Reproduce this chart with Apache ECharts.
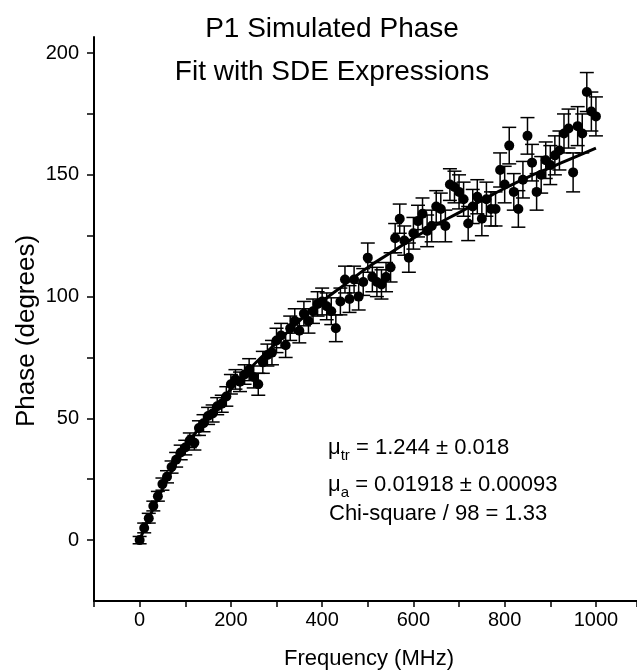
<!DOCTYPE html>
<html>
<head>
<meta charset="utf-8">
<script src="https://cdn.jsdelivr.net/npm/echarts@6/dist/echarts.min.js"></script>
<style>
html, body { margin: 0; padding: 0; background: #fff; }
#chart { width: 637px; height: 672px; }
</style>
</head>
<body>
<div id="chart"></div>
<script>
// measured points, frequency in MHz
var freq = [0, 10, 20, 30, 40, 50, 60, 70, 80, 90,
    100, 110, 120, 130, 140, 150, 160, 170, 180, 190,
    200, 210, 220, 230, 240, 250, 260, 270, 280, 290,
    300, 310, 320, 330, 340, 350, 360, 370, 380, 390,
    400, 410, 420, 430, 440, 450, 460, 470, 480, 490,
    500, 510, 520, 530, 540, 550, 560, 570, 580, 590,
    600, 610, 620, 630, 640, 650, 660, 670, 680, 690,
    700, 710, 720, 730, 740, 750, 760, 770, 780, 790,
    800, 810, 820, 830, 840, 850, 860, 870, 880, 890,
    900, 910, 920, 930, 940, 950, 960, 970, 980, 990, 1000];
var phase = [0, 5, 9, 14, 18, 23, 26, 30, 33, 36,
    38, 41, 40, 46, 48, 51, 52, 55, 56, 59,
    64, 66, 65, 68, 70, 67, 64, 73, 76, 77,
    82, 84, 80, 87, 90, 86, 93, 90, 94, 97,
    98, 96, 94, 87, 98, 107, 99, 107, 100, 106,
    116, 108, 106, 105, 108, 112, 124, 132, 123, 116,
    126, 131, 134, 127, 129, 137, 136, 129, 146, 145,
    143, 140, 130, 137, 141, 132, 140, 136, 136, 152,
    146, 162, 143, 136, 148, 166, 155, 143, 150, 156,
    154, 158, 160, 167, 169, 151, 170, 167, 184, 176, 174];
var err = [1.5, 2, 2, 2, 2, 2.5, 2.5, 2.5, 3, 3,
    3, 3, 3, 3, 3.5, 3.5, 3.5, 3.5, 3.5, 4,
    4, 4, 4, 4, 4.5, 4.5, 4.5, 4.5, 4.5, 5,
    5, 5, 5, 5, 5, 5, 5, 5, 5, 5,
    5.5, 5.5, 5.5, 5.5, 5.5, 5.5, 5.5, 5.5, 5.5, 5.5,
    6, 6, 6, 6, 6, 6, 6, 6, 6, 6,
    6.5, 6.5, 6.5, 6.5, 6.5, 6.5, 6.5, 6.5, 6.5, 6.5,
    7, 7, 7, 7, 7, 7, 7, 7, 7, 7,
    7.5, 7.5, 7.5, 7.5, 7.5, 7.5, 7.5, 7.5, 7.5, 7.5,
    8, 8, 8, 8, 8, 8, 8, 8, 8, 8, 8];

// SDE fit curve
var fitFreq = [0, 10, 25, 50, 75, 100, 150, 200, 250, 300, 350, 400, 450, 500,
    550, 600, 650, 700, 750, 800, 850, 900, 950, 1000];
var fitPhase = [0, 4.5, 11, 21, 30, 38, 51, 62, 72, 81, 90, 98, 105, 112,
    118, 124, 129.5, 134.5, 139.5, 144.5, 149, 153, 157, 161];

var yLabels = [0, 50, 100, 150, 200];
var yTicks = [0, 25, 50, 75, 100, 125, 150, 175, 200];

var labelFont = "'Liberation Sans Narrow', 'Liberation Sans', Arial, sans-serif";
var textFont = "'Liberation Sans', Arial, sans-serif";

var pts = [], bars = [], fit = [];
for (var i = 0; i < freq.length; i++) {
    pts.push([freq[i], phase[i]]);
    bars.push([freq[i], phase[i] - err[i], phase[i] + err[i]]);
}
for (var j = 0; j < fitFreq.length; j++) {
    fit.push([fitFreq[j], fitPhase[j]]);
}

var myChart = echarts.init(document.getElementById('chart'));

var option = {
    backgroundColor: '#fff',
    animation: false,
    grid: { left: 94, right: 0, top: 37, bottom: 71, outerBoundsMode: 'none' },
    xAxis: {
        type: 'value',
        min: -100,
        max: 1090,
        interval: 100,
        axisLine: { show: true, onZero: false, lineStyle: { color: '#000', width: 2 } },
        axisTick: { show: true, length: 6, lineStyle: { color: '#000', width: 1.5 } },
        axisLabel: {
            color: '#000', fontSize: 20, fontFamily: labelFont, margin: 9,
            formatter: function (v) { return (v >= 0 && v <= 1000 && v % 200 === 0) ? String(v) : ''; }
        },
        splitLine: { show: false }
    },
    yAxis: {
        type: 'value',
        min: -25,
        max: 206.6,
        axisLine: { show: true, onZero: false, lineStyle: { color: '#000', width: 2 } },
        axisTick: { show: true, customValues: yTicks, length: 7, lineStyle: { color: '#000', width: 1.5 } },
        axisLabel: { customValues: yLabels, color: '#000', fontSize: 20, fontFamily: labelFont, margin: 15 },
        splitLine: { show: false }
    },
    series: [{
        type: 'custom',
        data: bars,
        encode: { x: 0, y: [1, 2] },
        z: 2,
        renderItem: function (params, api) {
            var top = api.coord([api.value(0), api.value(2)]);
            var bot = api.coord([api.value(0), api.value(1)]);
            var hw = 7;
            var st = { stroke: '#000', lineWidth: 1.5 };
            return {
                type: 'group',
                children: [
                    { type: 'line', shape: { x1: top[0], y1: top[1], x2: bot[0], y2: bot[1] }, style: st },
                    { type: 'line', shape: { x1: top[0] - hw, y1: top[1], x2: top[0] + hw, y2: top[1] }, style: st },
                    { type: 'line', shape: { x1: bot[0] - hw, y1: bot[1], x2: bot[0] + hw, y2: bot[1] }, style: st }
                ]
            };
        }
    }, {
        type: 'scatter',
        data: pts,
        symbol: 'circle',
        symbolSize: 10,
        itemStyle: { color: '#000', opacity: 1 },
        z: 3
    }, {
        type: 'line',
        data: fit,
        smooth: true,
        showSymbol: false,
        lineStyle: { color: '#000', width: 3 },
        z: 4
    }],
    graphic: [
        { type: 'text', x: 332, y: 29, style: { text: 'P1 Simulated Phase', font: '28px ' + textFont, fill: '#000', textAlign: 'center', textVerticalAlign: 'middle' } },
        { type: 'text', x: 332, y: 72, style: { text: 'Fit with SDE Expressions', font: '28px ' + textFont, fill: '#000', textAlign: 'center', textVerticalAlign: 'middle' } },
        { type: 'text', x: 27, y: 331, rotation: Math.PI / 2, style: { text: 'Phase (degrees)', font: '26px ' + textFont, fill: '#000', textAlign: 'center', textVerticalAlign: 'middle' } },
        { type: 'text', x: 369, y: 659, style: { text: 'Frequency (MHz)', font: '22px ' + textFont, fill: '#000', textAlign: 'center', textVerticalAlign: 'middle' } },
        {
            type: 'text', x: 328, y: 448,
            style: {
                text: '{m|μ}{s|tr}{m| = 1.244 ± 0.018}',
                textVerticalAlign: 'middle',
                rich: {
                    m: { fontSize: 22, fontFamily: textFont, color: '#000', lineHeight: 30 },
                    s: { fontSize: 15, fontFamily: textFont, color: '#000', lineHeight: 15, verticalAlign: 'bottom' }
                }
            }
        },
        {
            type: 'text', x: 328, y: 485,
            style: {
                text: '{m|μ}{s|a}{m| = 0.01918 ± 0.00093}',
                textVerticalAlign: 'middle',
                rich: {
                    m: { fontSize: 22, fontFamily: textFont, color: '#000', lineHeight: 30 },
                    s: { fontSize: 15, fontFamily: textFont, color: '#000', lineHeight: 15, verticalAlign: 'bottom' }
                }
            }
        },
        { type: 'text', x: 329, y: 514, style: { text: 'Chi-square / 98 = 1.33', font: '22px ' + textFont, fill: '#000', textVerticalAlign: 'middle' } }
    ]
};

myChart.setOption(option);
</script>
</body>
</html>
